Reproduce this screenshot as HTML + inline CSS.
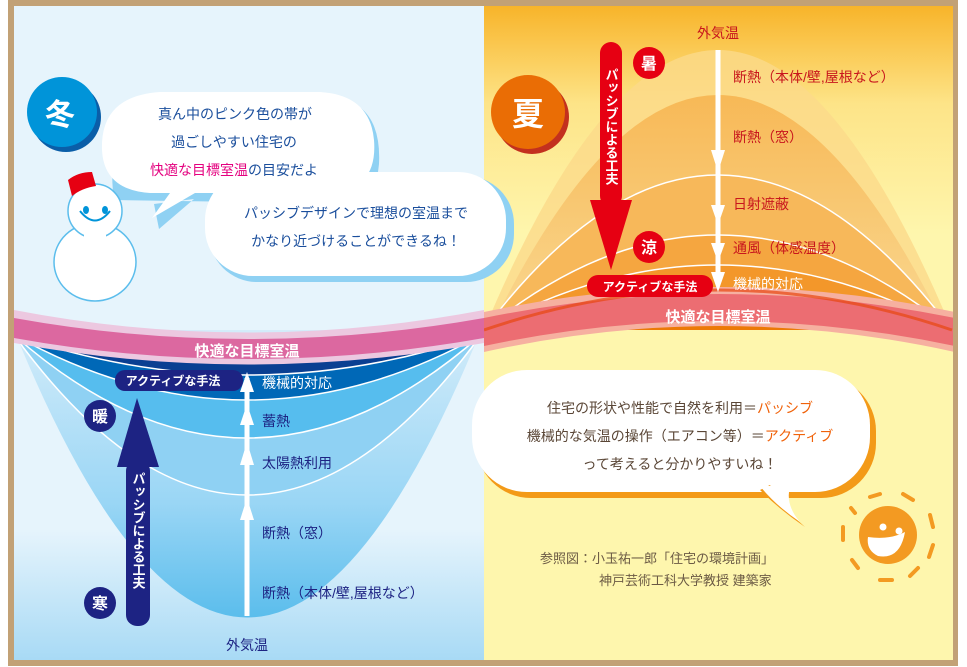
<!DOCTYPE html>
<html><head><meta charset="utf-8"><style>
html,body{margin:0;padding:0;background:#fff;}
svg{display:block;}
text{font-family:"Liberation Sans","Noto Sans CJK JP",sans-serif;}
</style></head><body>
<svg width="967" height="667" viewBox="0 0 967 667" xmlns="http://www.w3.org/2000/svg">
<defs>
<linearGradient id="ybg" x1="0" y1="0" x2="0" y2="1">
<stop offset="0" stop-color="#f8b42a"/><stop offset="0.15" stop-color="#fde488"/><stop offset="0.35" stop-color="#fef6ad"/><stop offset="1" stop-color="#fef6ad"/></linearGradient>
<linearGradient id="bbg" x1="0" y1="0" x2="0" y2="1">
<stop offset="0" stop-color="#e6f4fc"/><stop offset="0.8" stop-color="#e6f4fc"/><stop offset="1" stop-color="#a8daf5"/></linearGradient>
<linearGradient id="bowl" x1="0" y1="0" x2="0" y2="1">
<stop offset="0" stop-color="#d3ecfa"/><stop offset="0.6" stop-color="#9ad6f5"/><stop offset="1" stop-color="#5bbdec"/></linearGradient>
<linearGradient id="dome" x1="0" y1="0" x2="0" y2="1">
<stop offset="0" stop-color="#f6b04a"/><stop offset="1" stop-color="#f9d690"/></linearGradient>
</defs>
<rect x="8" y="0" width="950" height="666" fill="#c2a176"/>
<rect x="14" y="6" width="470" height="654" fill="url(#bbg)"/>
<rect x="484" y="6" width="469" height="654" fill="url(#ybg)"/>

<clipPath id="rc"><rect x="484" y="6" width="469" height="654"/></clipPath>
<clipPath id="lc"><rect x="14" y="6" width="470" height="654"/></clipPath>
<g clip-path="url(#rc)">
<path d="M484,330 Q718,-230 952,330 Z" fill="#fbd98a" opacity="0.8"/>
<path d="M490,330 Q718,-140 946,330 Z" fill="url(#dome)" opacity="0.8"/>
<path d="M484,330 Q718,20 952,330 Z" fill="#f7b85a"/>
<path d="M484,330 Q718,140 952,330 Z" fill="#f5a640"/>
<path d="M484,330 Q718,200 952,330 Z" fill="#f3972a"/>
<path d="M484,330 Q718,250 952,330 Z" fill="#ec7a06"/>
<path d="M484,330 Q718,20 952,330 M484,330 Q718,140 952,330 M484,330 Q718,200 952,330 M484,330 Q718,250 952,330" fill="none" stroke="#fff" stroke-width="1.5"/>
<path d="M484,312 Q718,262 955,312 L955,352 Q718,300 484,352 Z" fill="#f6b0a0"/>
<path d="M484,318 Q718,270 955,318 L955,346 Q718,296 484,346 Z" fill="#ec6d72"/>
<path d="M484,330 Q718,250 952,330" fill="none" stroke="#e8470f" stroke-width="3" opacity="0.7"/>
</g>

<g clip-path="url(#lc)">
<path d="M14,330 Q247,905 481,330 Z" fill="url(#bowl)"/>
<path d="M14,335 Q247,655 481,335 Z" fill="#8fd1f3"/>
<path d="M14,335 Q247,541 481,335 Z" fill="#56bdee"/>
<path d="M14,335 Q247,465 481,335 Z" fill="#2bb3ea"/>
<path d="M14,335 Q247,465 481,335 Z" fill="#0068b7"/>
<path d="M14,335 Q247,415 481,335 Z" fill="#0a3f92"/>
<path d="M14,335 Q247,655 481,335 M14,335 Q247,541 481,335 M14,335 Q247,465 481,335 M14,335 Q247,415 481,335" fill="none" stroke="#fff" stroke-width="1.5"/>
<path d="M14,310 Q247,355 484,310 L484,343 Q247,386 14,343 Z" fill="#ecc8e0"/>
<path d="M14,318 Q247,360 484,318 L484,338 Q247,380 14,338 Z" fill="#dc68a0"/>
</g>

<text x="247" y="356" font-size="15" font-weight="bold" fill="#fff" text-anchor="middle">快適な目標室温</text>
<rect x="115" y="370" width="128" height="21" rx="10" fill="#1d2383"/>
<text x="173" y="385" font-size="12" font-weight="bold" fill="#fff" text-anchor="middle">アクティブな手法</text>
<rect x="244.5" y="378" width="5" height="238" fill="#fff"/>
<polygon points="247,372 240,392 254,392" fill="#fff"/>
<polygon points="247,404 240,425 254,425" fill="#fff"/>
<polygon points="247,442 240,465 254,465" fill="#fff"/>
<polygon points="247,498 240,520 254,520" fill="#fff"/>
<g font-size="14" fill="#1d2383">
<text x="262" y="388" fill="#fff">機械的対応</text>
<text x="262" y="426">蓄熱</text>
<text x="262" y="468">太陽熱利用</text>
<text x="262" y="538">断熱（窓）</text>
<text x="262" y="598">断熱（本体/壁,屋根など）</text>
<text x="247" y="650" text-anchor="middle">外気温</text>
</g>
<rect x="126" y="460" width="24" height="166" rx="11" fill="#1d2383"/>
<polygon points="137,398 117,467 159,467" fill="#1d2383"/>
<text x="138" y="472" font-size="13" font-weight="bold" fill="#fff" writing-mode="tb">パッシブによる工夫</text>
<circle cx="100" cy="416" r="16" fill="#1d2383"/>
<text x="100" y="422" font-size="16" font-weight="bold" fill="#fff" text-anchor="middle">暖</text>
<circle cx="100" cy="603" r="16" fill="#1d2383"/>
<text x="100" y="609" font-size="16" font-weight="bold" fill="#fff" text-anchor="middle">寒</text>

<rect x="715.5" y="50" width="5" height="235" fill="#fff"/>
<polygon points="718,172 711,150 725,150" fill="#fff"/>
<polygon points="718,225 711,205 725,205" fill="#fff"/>
<polygon points="718,262 711,243 725,243" fill="#fff"/>
<polygon points="718,292 711,272 725,272" fill="#fff"/>
<g font-size="14" fill="#c8161d">
<text x="718" y="38" text-anchor="middle">外気温</text>
<text x="733" y="82">断熱（本体/壁,屋根など）</text>
<text x="733" y="142">断熱（窓）</text>
<text x="733" y="209">日射遮蔽</text>
<text x="733" y="253">通風（体感温度）</text>
<text x="733" y="289" fill="#fff">機械的対応</text>
</g>
<text x="718" y="322" font-size="15" font-weight="bold" fill="#fff" text-anchor="middle">快適な目標室温</text>
<rect x="600" y="42" width="22" height="165" rx="11" fill="#e60012"/>
<polygon points="590,200 632,200 611,270" fill="#e60012"/>
<text x="611" y="68" font-size="13" font-weight="bold" fill="#fff" writing-mode="tb">パッシブによる工夫</text>
<circle cx="649" cy="63" r="16" fill="#e60012"/>
<text x="649" y="69" font-size="16" font-weight="bold" fill="#fff" text-anchor="middle">暑</text>
<circle cx="649" cy="247" r="16" fill="#e60012"/>
<text x="649" y="253" font-size="16" font-weight="bold" fill="#fff" text-anchor="middle">涼</text>
<rect x="587" y="275" width="126" height="22" rx="11" fill="#e60012"/>
<text x="650" y="291" font-size="12" font-weight="bold" fill="#fff" text-anchor="middle">アクティブな手法</text>

<circle cx="66" cy="117" r="35" fill="#0a5ea8"/>
<circle cx="62" cy="112" r="35" fill="#0094d9"/>
<text x="60" y="125" font-size="30" font-weight="bold" fill="#fff" text-anchor="middle">冬</text>
<circle cx="532" cy="117" r="37" fill="#c3301e"/>
<circle cx="528" cy="112" r="37" fill="#ea6d05"/>
<text x="528" y="125" font-size="32" font-weight="bold" fill="#fff" text-anchor="middle">夏</text>

<path d="M110,196 Q98,110 170,95 L330,93 Q378,100 375,160 L370,200 Z M150,200 L155,225 L190,195 Z" fill="#8fd1f3" transform="translate(4,4)"/>
<path d="M160,92 Q100,96 102,150 Q104,190 150,193 L170,193 L152,218 L195,193 L330,193 Q378,190 374,140 Q370,95 320,92 Z" fill="#fff"/>
<rect x="209" y="176" width="305" height="106" rx="48" fill="#8fd1f3"/>
<rect x="205" y="172" width="301" height="104" rx="48" fill="#fff"/>
<g font-size="14" fill="#1a4e9c" text-anchor="middle">
<text x="235" y="119">真ん中のピンク色の帯が</text>
<text x="234" y="147">過ごしやすい住宅の</text>
<text x="234" y="175"><tspan fill="#e4007f">快適な目標室温</tspan>の目安だよ</text>
<text x="356" y="218">パッシブデザインで理想の室温まで</text>
<text x="356" y="246">かなり近づけることができるね！</text>
</g>
<ellipse cx="95" cy="262" rx="41" ry="39" fill="#fff" stroke="#5bbdec" stroke-width="1.5"/>
<circle cx="95" cy="211" r="27" fill="#fff" stroke="#5bbdec" stroke-width="1.5"/>
<rect x="84" y="230" width="22" height="10" fill="#fff"/>
<path d="M68,180 L72,196 Q82,188 96,186 L92,172 Q78,172 68,180 Z" fill="#e60012"/>
<ellipse cx="86" cy="210" rx="3" ry="4" fill="#0094d9"/>
<ellipse cx="105" cy="210" rx="3" ry="4" fill="#0094d9"/>
<path d="M80,211 Q95,230 110,211" fill="none" stroke="#0094d9" stroke-width="2"/>

<rect x="476" y="376" width="400" height="122" rx="55" fill="#f39a18"/>
<rect x="472" y="370" width="398" height="122" rx="55" fill="#fff"/>
<path d="M770,485 Q780,505 805,527 Q780,510 760,490 Z" fill="#f39a18"/>
<path d="M760,486 Q775,505 800,522 Q785,505 790,486 Z" fill="#fff"/>
<g font-size="14" fill="#5a4636" text-anchor="middle">
<text x="680" y="413">住宅の形状や性能で自然を利用＝<tspan fill="#f0620a">パッシブ</tspan></text>
<text x="680" y="441">機械的な気温の操作（エアコン等）＝<tspan fill="#f0620a">アクティブ</tspan></text>
<text x="680" y="469">って考えると分かりやすいね！</text>
</g>
<circle cx="888" cy="535" r="29" fill="#f39a22"/>
<circle cx="883" cy="527" r="3.5" fill="#fff"/><circle cx="899" cy="531" r="3.5" fill="#fff"/>
<path d="M868,537 Q890,540 905,532 Q900,560 878,556 Q866,550 868,537 Z" fill="#fff"/>
<g stroke="#f39a22" stroke-width="4" stroke-linecap="round" fill="none">
<path d="M870,497 L880,494"/><path d="M903,494 L913,500"/><path d="M930,515 L933,527"/><path d="M933,545 L929,557"/>
<path d="M918,568 L910,576"/><path d="M880,580 L892,580"/><path d="M852,560 L858,568"/><path d="M843,540 L843,527"/><path d="M851,508 L855,513"/>
</g>
<g font-size="13" fill="#6b5a44">
<text x="540" y="563">参照図：小玉祐一郎「住宅の環境計画」</text>
<text x="599" y="585">神戸芸術工科大学教授 建築家</text>
</g>
</svg>
</body></html>
